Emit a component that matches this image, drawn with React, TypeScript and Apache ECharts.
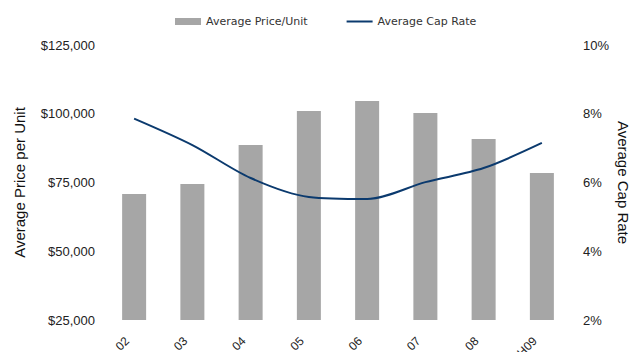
import React, { useEffect, useRef } from "react";
import * as echarts from "echarts";

const categories = ["02", "03", "04", "05", "06", "07", "08", "1H09"];
const avgPrice = [70800, 74500, 88600, 101000, 104600, 100300, 90800, 78500];
const capRate = [7.86, 7.09, 6.13, 5.58, 5.52, 6.01, 6.42, 7.15];
const leftTicks = [25000, 125000, 25000];
const rightTicks = [2, 10, 2];

export default function App() {
  const ref = useRef<HTMLDivElement>(null);
  useEffect(() => {
    if (!ref.current) return;
    const chart = echarts.init(ref.current, null, { renderer: "svg" });
    const font = "Liberation Sans";
    chart.setOption({
      animation: false,
      textStyle: { fontFamily: font },
      legend: {
        top: 11,
        left: 170,
        itemGap: 38,
        itemWidth: 26,
        itemHeight: 7,
        textStyle: { fontSize: 11, color: "#333", fontFamily: "DejaVu Sans" },
        data: [
          { name: "Average Price/Unit", icon: "rect" },
          { name: "Average Cap Rate", itemStyle: { opacity: 0 } },
        ],
      },
      grid: {
        left: 105,
        right: 66,
        top: 45,
        bottom: 40,
        containLabel: false,
        outerBoundsMode: "none",
      },
      xAxis: {
        type: "category",
        data: categories,
        axisLine: { show: false },
        axisTick: { show: false },
        axisLabel: {
          rotate: 45,
          fontSize: 12,
          color: "#222",
          margin: 12,
          padding: [0, 10, 0, 0],
          fontFamily: font,
        },
      },
      yAxis: [
        {
          type: "value",
          min: leftTicks[0],
          max: leftTicks[1],
          interval: leftTicks[2],
          splitLine: { show: false },
          axisLine: { show: false },
          axisTick: { show: false },
          axisLabel: {
            fontSize: 13,
            color: "#222",
            margin: 10,
            fontFamily: font,
            formatter: (v: number) => "$" + v.toLocaleString("en-US"),
          },
          name: "Average Price per Unit",
          nameLocation: "middle",
          nameRotate: 90,
          nameGap: 78,
          nameMoveOverlap: false,
          nameTextStyle: { fontSize: 15, color: "#111", fontFamily: font },
        },
        {
          type: "value",
          min: rightTicks[0],
          max: rightTicks[1],
          interval: rightTicks[2],
          splitLine: { show: false },
          axisLine: { show: false },
          axisTick: { show: false },
          axisLabel: {
            fontSize: 13,
            color: "#222",
            margin: 12,
            fontFamily: font,
            formatter: (v: number) => v + "%",
          },
          name: "Average Cap Rate",
          nameLocation: "middle",
          nameRotate: -90,
          nameGap: 45,
          nameMoveOverlap: false,
          nameTextStyle: { fontSize: 15, color: "#111", fontFamily: font },
        },
      ],
      series: [
        {
          name: "Average Price/Unit",
          type: "bar",
          data: avgPrice,
          barWidth: 24,
          itemStyle: { color: "#a6a6a6" },
        },
        {
          name: "Average Cap Rate",
          type: "line",
          yAxisIndex: 1,
          data: capRate,
          smooth: 0.3,
          symbol: "none",
          lineStyle: { color: "#0b3a6e", width: 2 },
          itemStyle: { color: "#0b3a6e" },
        },
      ],
    });
    return () => chart.dispose();
  }, []);
  return <div ref={ref} style={{ width: 637, height: 360, margin: -8 }} />;
}
